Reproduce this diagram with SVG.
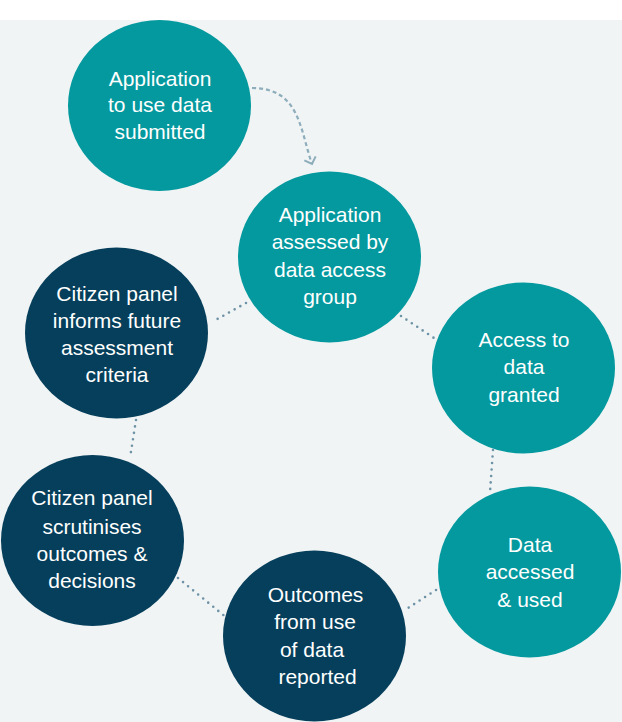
<svg xmlns="http://www.w3.org/2000/svg" width="622" height="722" viewBox="0 0 622 722">
<style>
.teal{fill:#04999e}
.navy{fill:#063f5b}
.lbl{font-family:"Liberation Sans",Arial,sans-serif;font-size:21px;fill:#ffffff;text-anchor:middle}
.dot{fill:none;stroke:#6f93a6;stroke-width:2.6;stroke-linecap:round;stroke-dasharray:0 6.5}
.dash{fill:none;stroke:#8eadbb;stroke-width:2.2;stroke-dasharray:4 3}
</style>
<defs>
<marker id="arr" markerWidth="14" markerHeight="14" refX="7" refY="7" orient="auto" markerUnits="userSpaceOnUse">
<path d="M1,1 L7,7 L1,13" fill="none" stroke="#8eadbb" stroke-width="2"/>
</marker>
</defs>
<rect x="0" y="0" width="622" height="722" fill="#ffffff"/>
<rect x="0" y="20" width="622" height="702" fill="#f0f4f5"/>
<g id="connectors">
<path class="dash" d="M252,88 C300,88 300,130 312,164" marker-end="url(#arr)"/>
<line class="dot" x1="246" y1="303" x2="212" y2="322"/>
<line class="dot" x1="401" y1="316" x2="437" y2="340"/>
<line class="dot" x1="493" y1="450" x2="490" y2="492"/>
<line class="dot" x1="436" y1="590" x2="405" y2="610"/>
<line class="dot" x1="178" y1="578" x2="227" y2="618"/>
<line class="dot" x1="136" y1="420" x2="130" y2="458"/>
</g>
<g id="node1">
<ellipse class="teal" cx="159.5" cy="105.5" rx="91.5" ry="85.5"/>
<text class="lbl" x="160" y="85.5">Application</text>
<text class="lbl" x="160" y="112">to use data</text>
<text class="lbl" x="160" y="139">submitted</text>
</g>
<g id="node2">
<ellipse class="teal" cx="329.5" cy="257" rx="91.5" ry="85.5"/>
<text class="lbl" x="330" y="222">Application</text>
<text class="lbl" x="330" y="249">assessed by</text>
<text class="lbl" x="330" y="277">data access</text>
<text class="lbl" x="330" y="304">group</text>
</g>
<g id="node3">
<ellipse class="teal" cx="523.5" cy="368" rx="91.5" ry="85.5"/>
<text class="lbl" x="524" y="347">Access to</text>
<text class="lbl" x="524" y="374">data</text>
<text class="lbl" x="524" y="402">granted</text>
</g>
<g id="node4">
<ellipse class="teal" cx="529.5" cy="572" rx="91.5" ry="85.5"/>
<text class="lbl" x="530" y="552">Data</text>
<text class="lbl" x="530" y="579">accessed</text>
<text class="lbl" x="530" y="607">&amp; used</text>
</g>
<g id="node5">
<ellipse class="navy" cx="314.5" cy="636" rx="91.5" ry="85.5"/>
<text class="lbl" x="315.5" y="602">Outcomes</text>
<text class="lbl" x="315" y="629">from use</text>
<text class="lbl" x="312" y="657">of data</text>
<text class="lbl" x="317.5" y="684">reported</text>
</g>
<g id="node6">
<ellipse class="navy" cx="92.5" cy="540.5" rx="91.5" ry="85.5"/>
<text class="lbl" x="92" y="505">Citizen panel</text>
<text class="lbl" x="92" y="534">scrutinises</text>
<text class="lbl" x="92" y="561">outcomes &amp;</text>
<text class="lbl" x="92" y="588">decisions</text>
</g>
<g id="node7">
<ellipse class="navy" cx="116.5" cy="333" rx="91.5" ry="85.5"/>
<text class="lbl" x="117" y="301">Citizen panel</text>
<text class="lbl" x="117" y="328">informs future</text>
<text class="lbl" x="117" y="355">assessment</text>
<text class="lbl" x="117" y="382">criteria</text>
</g>
</svg>
